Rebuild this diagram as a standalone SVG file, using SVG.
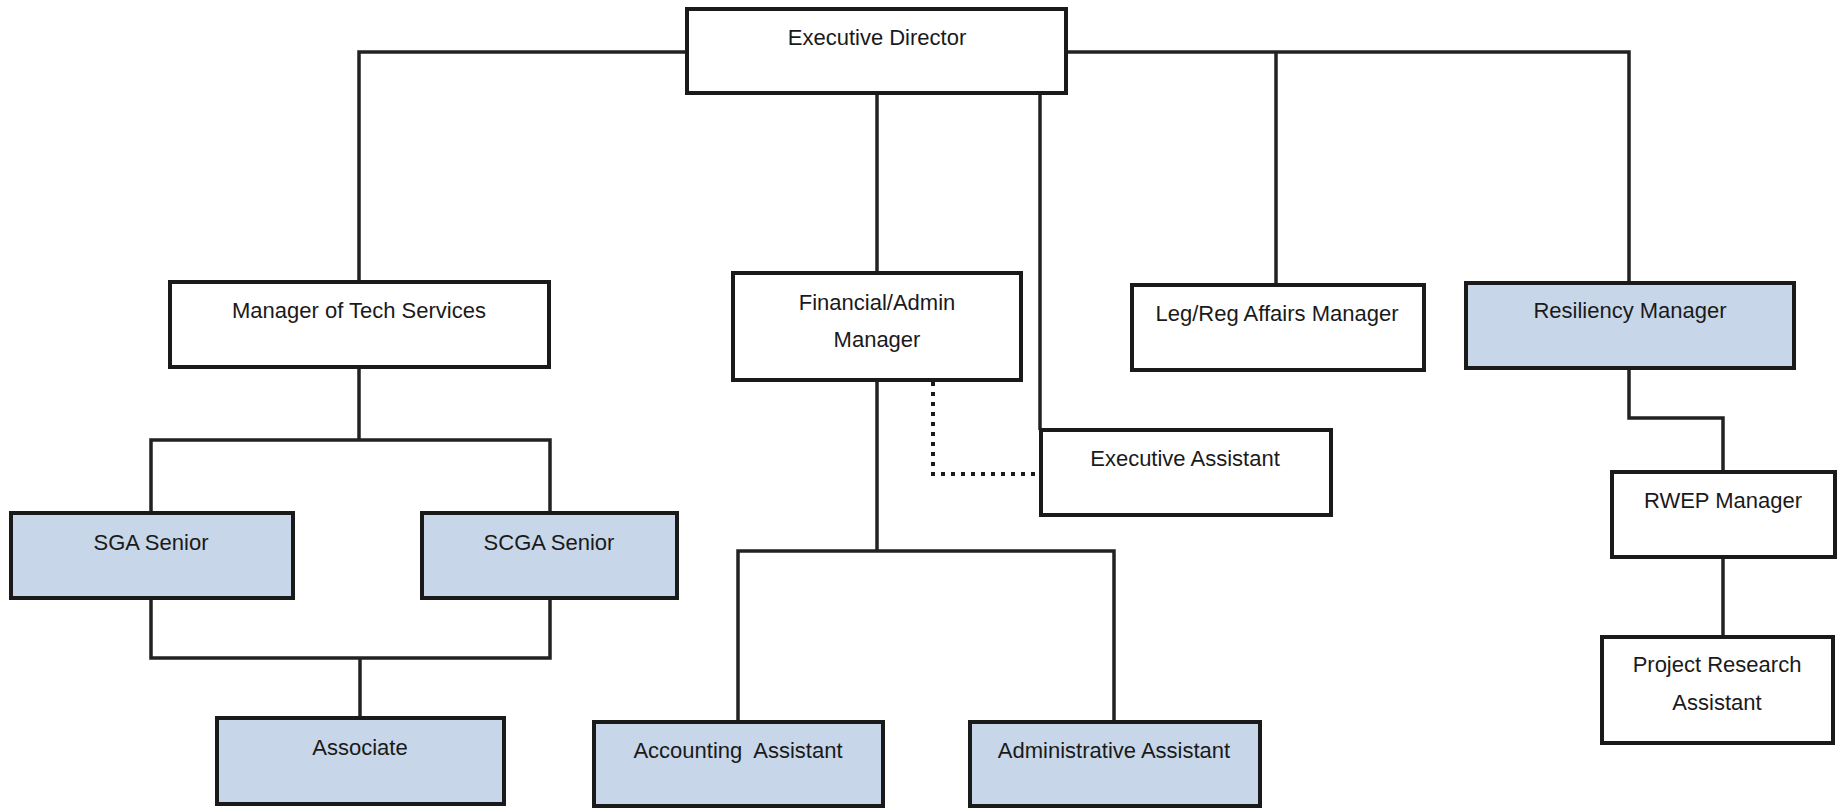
<svg xmlns="http://www.w3.org/2000/svg" width="1847" height="808" viewBox="0 0 1847 808">
<style>
.box{fill:#ffffff;stroke:#1a1a1a;stroke-width:4}
.blue{fill:#c7d6e8}
.t{font-family:"Liberation Sans",Arial,sans-serif;font-size:22px;fill:#1a1a1a;text-anchor:middle;white-space:pre}
.c{fill:none;stroke:#222222;stroke-width:3.5}
.d{fill:none;stroke:#1a1a1a;stroke-width:4;stroke-dasharray:4 6}
</style>
<rect width="1847" height="808" fill="#ffffff"/>
<g id="connectors">
<path class="c" d="M687,52 H359 V282"/>
<path class="c" d="M877,93 V273"/>
<path class="c" d="M1040,93 V430"/>
<path class="c" d="M1066,52 H1629 V283"/>
<path class="c" d="M1276,52 V285"/>
<path class="c" d="M359,367 V440"/>
<path class="c" d="M151,513 V440 H550 V513"/>
<path class="c" d="M151,598 V658 H550 V598"/>
<path class="c" d="M360,658 V718"/>
<path class="c" d="M877,380 V551"/>
<path class="c" d="M738,722 V551 H1114 V722"/>
<path class="d" d="M933,382 V474 H1041"/>
<path class="c" d="M1629,368 V418 H1723 V472"/>
<path class="c" d="M1723,557 V637"/>
</g>
<g id="executive-director"><rect class="box" x="687" y="9" width="379" height="84"/><text class="t" x="877" y="45">Executive Director</text></g>
<g id="manager-tech-services"><rect class="box" x="170" y="282" width="379" height="85"/><text class="t" x="359" y="318">Manager of Tech Services</text></g>
<g id="financial-admin-manager"><rect class="box" x="733" y="273" width="288" height="107"/><text class="t" x="877" y="310">Financial/Admin</text><text class="t" x="877" y="347">Manager</text></g>
<g id="leg-reg-affairs-manager"><rect class="box" x="1132" y="285" width="292" height="85"/><text class="t" x="1277" y="321">Leg/Reg Affairs Manager</text></g>
<g id="resiliency-manager"><rect class="box blue" x="1466" y="283" width="328" height="85"/><text class="t" x="1630" y="318">Resiliency Manager</text></g>
<g id="executive-assistant"><rect class="box" x="1041" y="430" width="290" height="85"/><text class="t" x="1185" y="466">Executive Assistant</text></g>
<g id="rwep-manager"><rect class="box" x="1612" y="472" width="223" height="85"/><text class="t" x="1723" y="508">RWEP Manager</text></g>
<g id="project-research-assistant"><rect class="box" x="1602" y="637" width="231" height="106"/><text class="t" x="1717" y="672">Project Research</text><text class="t" x="1717" y="710">Assistant</text></g>
<g id="sga-senior"><rect class="box blue" x="11" y="513" width="282" height="85"/><text class="t" x="151" y="550">SGA Senior</text></g>
<g id="scga-senior"><rect class="box blue" x="422" y="513" width="255" height="85"/><text class="t" x="549" y="550">SCGA Senior</text></g>
<g id="associate"><rect class="box blue" x="217" y="718" width="287" height="86"/><text class="t" x="360" y="755">Associate</text></g>
<g id="accounting-assistant"><rect class="box blue" x="594" y="722" width="289" height="84"/><text class="t" x="738" y="758">Accounting  Assistant</text></g>
<g id="administrative-assistant"><rect class="box blue" x="970" y="722" width="290" height="84"/><text class="t" x="1114" y="758">Administrative Assistant</text></g>
</svg>
